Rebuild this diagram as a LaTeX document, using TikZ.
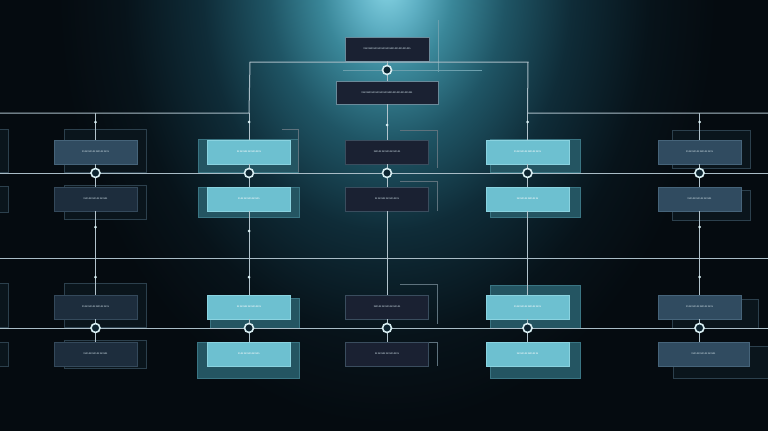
\documentclass[tikz,border=0pt]{standalone}
\usetikzlibrary{calc}
\definecolor{bgc}{HTML}{050B10}
\definecolor{g0}{HTML}{86D4E4}
\definecolor{g1}{HTML}{5EAFC3}
\definecolor{g2}{HTML}{3A8799}
\definecolor{g3}{HTML}{1F5565}
\definecolor{g4}{HTML}{0F2C38}
\definecolor{g5}{HTML}{07131A}
\definecolor{slatec}{HTML}{304B60}
\definecolor{slateb}{HTML}{46647A}
\definecolor{deepc}{HTML}{1D2D3D}
\definecolor{deepb}{HTML}{34495B}
\definecolor{navyc}{HTML}{1A2132}
\definecolor{navyb}{HTML}{3A4D5E}
\definecolor{topb}{HTML}{6A8A9A}
\definecolor{cyanc}{HTML}{6DC0D0}
\definecolor{cyanb}{HTML}{8AD3E0}
\definecolor{tealback}{HTML}{245562}
\definecolor{framefill}{HTML}{0A151C}
\definecolor{frameb}{HTML}{2C404D}
\definecolor{linec}{HTML}{A9BCC6}
\definecolor{txtc}{HTML}{C8D8E0}
\definecolor{ringc}{HTML}{D8EEF2}
\definecolor{ringfill}{HTML}{0D2430}
\pgfdeclareradialshading{glow}{\pgfpoint{0bp}{0bp}}{color(0bp)=(g0); color(2.5bp)=(g1); color(5bp)=(g2); color(9bp)=(g3); color(14bp)=(g4); color(20bp)=(g5); color(25bp)=(bgc); color(50bp)=(bgc)}
\begin{document}
\begin{tikzpicture}[x=1pt,y=-1pt,
  box/.style={rectangle, minimum width=83pt, minimum height=24pt, inner sep=0pt,
    font=\fontsize{3.6}{4}\selectfont, text=txtc, line width=0.6pt},
  slate/.style={box, fill=slatec, draw=slateb},
  deep/.style={box, fill=deepc, draw=deepb},
  navy/.style={box, fill=navyc, draw=navyb},
  topbox/.style={box, fill=navyc, draw=topb},
  cyanbox/.style={box, fill=cyanc, draw=cyanb, text=white},
  frame/.style={fill=framefill, draw=frameb, line width=0.6pt},
  backing/.style={fill=tealback, draw=tealback!70!cyanc, line width=0.5pt},
  edge/.style={draw=frameb!60!linec, line width=0.6pt},
  hline/.style={draw=linec, line width=1pt},
  vline/.style={draw=linec!90!white, line width=1pt},
  faint/.style={draw=linec!45!g2, line width=0.6pt},
  ring/.style={circle, minimum size=9pt, inner sep=0pt, draw=ringc, line width=1.6pt, fill=ringfill},
  dotn/.style={circle, minimum size=3pt, inner sep=0pt, fill=ringc}
]
\useasboundingbox (0,0) rectangle (768,431);
\begin{scope}
\clip (0,0) rectangle (768,431);
\fill[bgc] (0,0) rectangle (768,431);
\path[shading=glow] (387,-15) ellipse [x radius=330, y radius=440];

% ---------- back frames and backings ----------
% left partial column
\draw[frame] (-80,129) rectangle (8,172);
\draw[frame] (-80,186) rectangle (8,212);
\draw[frame] (-80,283) rectangle (8,327);
\draw[frame] (-80,342) rectangle (8,366);
% column 1
\draw[frame] (64,129) rectangle (146,172);
\draw[frame] (64,185) rectangle (146,219);
\draw[frame] (64,283) rectangle (146,327);
\draw[frame] (64,340) rectangle (146,368);
% column 2 (cyan)
\draw[backing] (198,139) rectangle (298,172);
\draw[edge] (282,129) -| (298,172);
\draw[backing] (198,187) rectangle (299,217);
\draw[backing] (210,298) rectangle (299,328);
\draw[backing] (197,342) rectangle (299,378);
% column 3
\draw[edge] (400,130) -| (437,168);
\draw[edge] (400,181) -| (437,211);
\draw[edge] (400,284) -| (437,324);
\draw[edge] (425,342) -| (437,366);
% column 4 (cyan)
\draw[backing] (490,139) rectangle (580,172);
\draw[backing] (490,187) rectangle (580,217);
\draw[backing] (490,285) rectangle (580,328);
\draw[backing] (490,342) rectangle (580,378);
% column 5
\draw[frame] (672,130) rectangle (750,168);
\draw[frame] (672,190) rectangle (750,220);
\draw[frame] (672,299) rectangle (758,328);
\draw[frame] (673,346) rectangle (768,378);
% faint top guide
\draw[faint] (438,20) -- (438,72);

% ---------- coordinates ----------
\coordinate (TL) at (250,62);
\coordinate (TR) at (528,62);
\coordinate (H1L) at (0,113);
\coordinate (H1R) at (768,113);
\coordinate (H2L) at (0,173);
\coordinate (H2R) at (768,173);
\coordinate (H3L) at (0,258);
\coordinate (H3R) at (768,258);
\coordinate (H4L) at (0,328);
\coordinate (H4R) at (768,328);
\coordinate (F1L) at (343,70);
\coordinate (F1R) at (482,70);
\coordinate (K1) at (95.5,113);
\coordinate (K2) at (249,113);
\coordinate (K4) at (527.5,113);
\coordinate (K5) at (699.5,113);

% ---------- nodes ----------
\node[topbox, minimum width=84pt] (t1) at (387,49) {mmmmmmmmmmmm};
\node[topbox, minimum width=102pt, minimum height=23pt] (t2) at (387,92.5) {mmmmmmmmmmmmm};

\node[slate] (a1) at (95.5,152) {nnnnnnnnnn};
\node[deep]  (b1) at (95.5,199) {nnnnnnnnn};
\node[deep]  (c1) at (95.5,307) {nnnnnnnnnn};
\node[deep]  (d1) at (95.5,354) {nnnnnnnnn};

\node[cyanbox] (a2) at (249,152) {nnnnnnnnn};
\node[cyanbox] (b2) at (249,199) {nnnnnnnn};
\node[cyanbox] (c2) at (249,307) {nnnnnnnnn};
\node[cyanbox] (d2) at (249,354) {nnnnnnnn};

\node[navy] (a3) at (387,152) {nnnnnnnnnn};
\node[navy] (b3) at (387,199) {nnnnnnnnn};
\node[navy] (c3) at (387,307) {nnnnnnnnnn};
\node[navy] (d3) at (387,354) {nnnnnnnnn};

\node[cyanbox] (a4) at (527.5,152) {nnnnnnnnnn};
\node[cyanbox] (b4) at (527.5,199) {nnnnnnnn};
\node[cyanbox] (c4) at (527.5,307) {nnnnnnnnnn};
\node[cyanbox] (d4) at (527.5,354) {nnnnnnnn};

\node[slate] (a5) at (699.5,152) {nnnnnnnnnn};
\node[slate] (b5) at (699.5,199) {nnnnnnnnn};
\node[slate] (c5) at (699.5,307) {nnnnnnnnnn};
\node[slate, minimum width=91pt] (d5) at (703.5,354) {nnnnnnnnn};

% ---------- lines ----------
\draw[hline] (H2L) -- (H2R);
\draw[hline] (H3L) -- (H3R);
\draw[hline] (H4L) -- (H4R);
\draw[hline] (H1L) -- (K2) -- (TL) -- (TR) -- (K4) -- (H1R);
\draw[faint] (F1L) -- (F1R);

% vertical connectors
\draw[vline] (K1) -- (a1.north);
\draw[vline] (K2) -- (a2.north);
\draw[vline] (t2.south) -- (a3.north);
\draw[vline] (K4) -- (a4.north);
\draw[vline] (K5) -- (a5.north);
\foreach \c in {1,2,3,4,5} {
  \draw[vline] (a\c.south) -- (b\c.north);
  \draw[vline] (b\c.south) -- (c\c.north);
  \draw[vline] (c\c.south) -- (c\c.south |- d\c.north);
}
\draw[vline] (t1.south) -- (t2.north);

% dots on connectors
\node[dotn] (p1) at (95.5,122) {};
\node[dotn] (p2) at (249,122) {};
\node[dotn] (p3) at (387,125) {};
\node[dotn] (p4) at (527.5,122) {};
\node[dotn] (p5) at (699.5,122) {};
\node[dotn] (q1) at (95.5,227) {};
\node[dotn] (q2) at (249,231) {};
\node[dotn] (q5) at (699.5,227) {};
\node[dotn] (s1) at (95.5,277) {};
\node[dotn] (s2) at (249,277) {};
\node[dotn] (s5) at (699.5,277) {};

% junction rings
\node[ring] (j0) at (387,70) {};
\node[ring] (j1) at (95.5,173) {};
\node[ring] (j2) at (249,173) {};
\node[ring] (j3) at (387,173) {};
\node[ring] (j4) at (527.5,173) {};
\node[ring] (j5) at (699.5,173) {};
\node[ring] (k1) at (95.5,328) {};
\node[ring] (k2) at (249,328) {};
\node[ring] (k3) at (387,328) {};
\node[ring] (k4) at (527.5,328) {};
\node[ring] (k5) at (699.5,328) {};
\end{scope}
\end{tikzpicture}
\end{document}
